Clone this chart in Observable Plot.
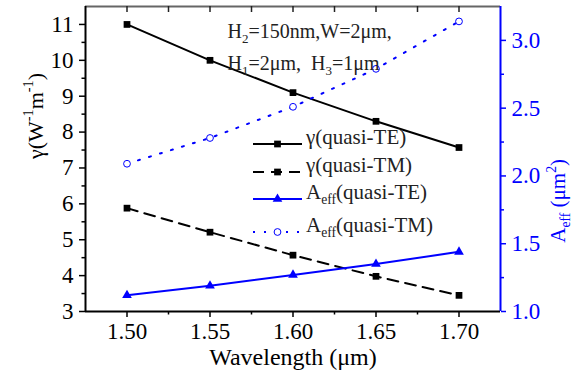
<!DOCTYPE html>
<html>
<head>
<meta charset="utf-8">
<script src="https://cdn.jsdelivr.net/npm/d3@7"></script>
<script src="https://cdn.jsdelivr.net/npm/@observablehq/plot@0.6"></script>
<style>
  html, body { margin: 0; padding: 0; background: #fff; }
  #chart svg, #chart svg text, #chart svg tspan { font-family: "Liberation Serif", "Times New Roman", serif !important; }
</style>
</head>
<body>
<div id="chart"></div>
<script>
// ---- data ----
const wavelength = [1.50, 1.55, 1.60, 1.65, 1.70];
const gammaTE = [11.0, 10.0, 9.1, 8.3, 7.57];
const gammaTM = [5.88, 5.21, 4.57, 3.98, 3.45];
const aeffTE = [1.12, 1.19, 1.27, 1.35, 1.44];
const aeffTM = [2.09, 2.28, 2.51, 2.79, 3.14];

const xTicks = [1.50, 1.55, 1.60, 1.65, 1.70];
const xMinorTicks = [1.525, 1.575, 1.625, 1.675];
const xTopTicks = [1.50, 1.525, 1.55, 1.575, 1.60, 1.625, 1.65, 1.675, 1.70];
const gammaTicks = [3, 4, 5, 6, 7, 8, 9, 10, 11];
const gammaMinorTicks = [3.5, 4.5, 5.5, 6.5, 7.5, 8.5, 9.5, 10.5];
const aeffTicks = [1.0, 1.5, 2.0, 2.5, 3.0];
const aeffMinorTicks = [1.25, 1.75, 2.25, 2.75];
const xDomain = [1.475, 1.725];
const gammaDomain = [3, 11.5];
const aeffDomain = [1.0, 3.25];

const xLabel = "Wavelength (μm)";
const gammaLabel = "γ(W^{-1}m^{-1})";
const aeffLabel = "A_{eff} (μm^{2})";
const noteLines = ["H_{2}=150nm,W=2μm,", "H_{1}=2μm,\u00a0 H_{3}=1μm"];
const legendLabels = ["γ(quasi-TE)", "γ(quasi-TM)", "A_{eff}(quasi-TE)", "A_{eff}(quasi-TM)"];

// map right-axis (A_eff) values onto the left (γ) scale
const k = (gammaDomain[1] - gammaDomain[0]) / (aeffDomain[1] - aeffDomain[0]);
const toY = a => gammaDomain[0] + (a - aeffDomain[0]) * k;
const fromY = y => aeffDomain[0] + (y - gammaDomain[0]) / k;

const rows = wavelength.map((w, i) => ({w, gTE: gammaTE[i], gTM: gammaTM[i], aTE: toY(aeffTE[i]), aTM: toY(aeffTM[i])}));

const W = 571, H = 380;
const mL = 85, mR = 71, mT = 6, mB = 69;
const BLUE = "#0000ff";
const FONT = "Liberation Serif";

const plot = Plot.plot({
  width: W, height: H,
  marginLeft: mL, marginRight: mR, marginTop: mT, marginBottom: mB,
  style: {fontFamily: FONT, fontSize: "23px", background: "white", overflow: "visible"},
  x: {domain: xDomain},
  y: {domain: gammaDomain},
  marks: [
    // frame lines
    Plot.ruleY([gammaDomain[1]], {stroke: "#666", strokeWidth: 2}),
    Plot.tickX(xTopTicks, {x: d => d, stroke: "#222", strokeWidth: 1.5, insetBottom: H - mT - mB - 6}),
    Plot.ruleY([gammaDomain[0]], {stroke: "black", strokeWidth: 2}),
    Plot.ruleX([xDomain[0]], {stroke: "black", strokeWidth: 2}),
    Plot.ruleX([xDomain[1]], {stroke: BLUE, strokeWidth: 2}),
    // axes
    Plot.axisX({ticks: xTicks, tickSize: 6, tickPadding: 5, tickFormat: d => d.toFixed(2), fontSize: 23, label: null, strokeWidth: 1.5}),
    Plot.axisX({ticks: xMinorTicks, tickSize: 3.5, tickFormat: () => "", label: null, strokeWidth: 1.5}),
    Plot.axisY({anchor: "left", ticks: gammaTicks, tickSize: 6, tickPadding: 6, fontSize: 23, label: null, strokeWidth: 1.5}),
    Plot.axisY({anchor: "left", ticks: gammaMinorTicks, tickSize: 3.5, tickFormat: () => "", label: null, strokeWidth: 1.5}),
    Plot.axisY({anchor: "right", ticks: aeffTicks.map(toY), tickSize: 5, tickPadding: 6, tickFormat: d => fromY(d).toFixed(1), fontSize: 23, label: null, color: BLUE, strokeWidth: 1.5}),
    Plot.axisY({anchor: "right", ticks: aeffMinorTicks.map(toY), tickSize: 3, tickFormat: () => "", label: null, color: BLUE, strokeWidth: 1.5}),
    // series
    Plot.line(rows, {x: "w", y: "gTE", stroke: "black", strokeWidth: 2}),
    Plot.line(rows, {x: "w", y: "gTM", stroke: "black", strokeWidth: 2, strokeDasharray: "11,7"}),
    Plot.line(rows, {x: "w", y: "aTE", stroke: BLUE, strokeWidth: 2}),
    Plot.line(rows, {x: "w", y: "aTM", stroke: BLUE, strokeWidth: 2, strokeDasharray: "2,9.5"}),
    Plot.dot(rows, {x: "w", y: "gTE", symbol: "square", fill: "black", r: 3.8}),
    Plot.dot(rows, {x: "w", y: "gTM", symbol: "square", fill: "black", r: 3.8}),
    Plot.dot(rows, {x: "w", y: "aTE", symbol: "triangle", fill: BLUE, r: 3.6}),
    Plot.dot(rows, {x: "w", y: "aTM", symbol: "circle", fill: "white", stroke: BLUE, strokeWidth: 1, r: 3.4}),
    // labels
    Plot.text([xLabel], {frameAnchor: "bottom", dy: 53, fontSize: 24, fill: "black", className: "rich"}),
    Plot.text([gammaLabel], {frameAnchor: "left", dx: -50, rotate: -90, fontSize: 22, fill: "black", className: "rich"}),
    Plot.text([aeffLabel], {frameAnchor: "right", dx: 58, rotate: -90, fontSize: 21, fill: BLUE, className: "rich"}),
    Plot.text([noteLines[0]], {frameAnchor: "top-left", dx: 142, dy: 17, textAnchor: "start", fontSize: 20, fill: "#222", className: "rich"}),
    Plot.text([noteLines[1]], {frameAnchor: "top-left", dx: 142, dy: 49, textAnchor: "start", fontSize: 20, fill: "#222", className: "rich"})
  ]
});
document.getElementById("chart").appendChild(plot);

const svgns = "http://www.w3.org/2000/svg";
function rich(el, str, fs) {
  el.textContent = "";
  const re = /([_^])\{([^}]*)\}/g;
  let last = 0, m;
  const parts = [];
  while ((m = re.exec(str))) {
    if (m.index > last) parts.push([str.slice(last, m.index), 0]);
    parts.push([m[2], m[1] === "^" ? -1 : 1]);
    last = re.lastIndex;
  }
  if (last < str.length) parts.push([str.slice(last), 0]);
  let cur = 0;
  for (const [t, kind] of parts) {
    const ts = document.createElementNS(svgns, "tspan");
    const target = kind === -1 ? -0.42 * fs : kind === 1 ? 0.25 * fs : 0;
    ts.setAttribute("dy", target - cur);
    cur = target;
    if (kind) ts.setAttribute("font-size", 0.65 * fs);
    ts.textContent = t;
    el.appendChild(ts);
  }
}
plot.querySelectorAll(".rich text").forEach(el => {
  const fs = parseFloat(getComputedStyle(el).fontSize);
  rich(el, el.textContent, fs);
});

// legend
const svg = d3.select(plot);
const lg = svg.append("g").attr("font-size", 21).attr("text-anchor", "start");
const legendY = [144, 172, 199, 232];
const styles = [
  {stroke: "black", dash: null, sym: "square", fill: "black", symStroke: "none"},
  {stroke: "black", dash: "11,7", sym: "square", fill: "black", symStroke: "none"},
  {stroke: BLUE, dash: null, sym: "triangle", fill: BLUE, symStroke: "none"},
  {stroke: BLUE, dash: "2,9", sym: "circle", fill: "white", symStroke: BLUE}
];
const symMap = {square: d3.symbolSquare, triangle: d3.symbolTriangle, circle: d3.symbolCircle};
const rMap = {square: 3.8, triangle: 3.6, circle: 3.4};
legendLabels.forEach((lab, i) => {
  const y = legendY[i];
  const s = styles[i];
  const g = lg.append("g");
  g.append("line").attr("x1", 253).attr("x2", 302).attr("y1", y).attr("y2", y)
    .attr("stroke", s.stroke).attr("stroke-width", 2).attr("stroke-dasharray", s.dash);
  const r = rMap[s.sym];
  g.append("path").attr("d", d3.symbol(symMap[s.sym], Math.PI * r * r)())
    .attr("transform", `translate(277.5,${y})`).attr("fill", s.fill).attr("stroke", s.symStroke);
  const t = g.append("text").attr("x", 306).attr("y", y).attr("dy", "0.35em").attr("fill", "#222").attr("text-anchor", "start");
  rich(t.node(), lab, 21);
});

// wrap any plain text content (axis tick labels) in a tspan too
plot.querySelectorAll("text").forEach(t => {
  if (!t.querySelector("tspan") && t.textContent !== "") {
    const s = t.textContent;
    t.textContent = "";
    const ts = document.createElementNS(svgns, "tspan");
    ts.textContent = s;
    t.appendChild(ts);
  }
});

// force the serif family everywhere
plot.querySelectorAll("style").forEach(s => s.remove());
plot.removeAttribute("class");
plot.setAttribute("font-family", FONT);
plot.style.setProperty("font-family", FONT, "important");
plot.querySelectorAll("[font-variant]").forEach(e => e.removeAttribute("font-variant"));
plot.querySelectorAll("g").forEach(g => { if (g.hasAttribute("font-family")) g.setAttribute("font-family", FONT); });
plot.querySelectorAll("text, tspan").forEach(t => {
  t.setAttribute("font-family", FONT);
  t.style.setProperty("font-family", FONT, "important");
});
</script>
</body>
</html>
